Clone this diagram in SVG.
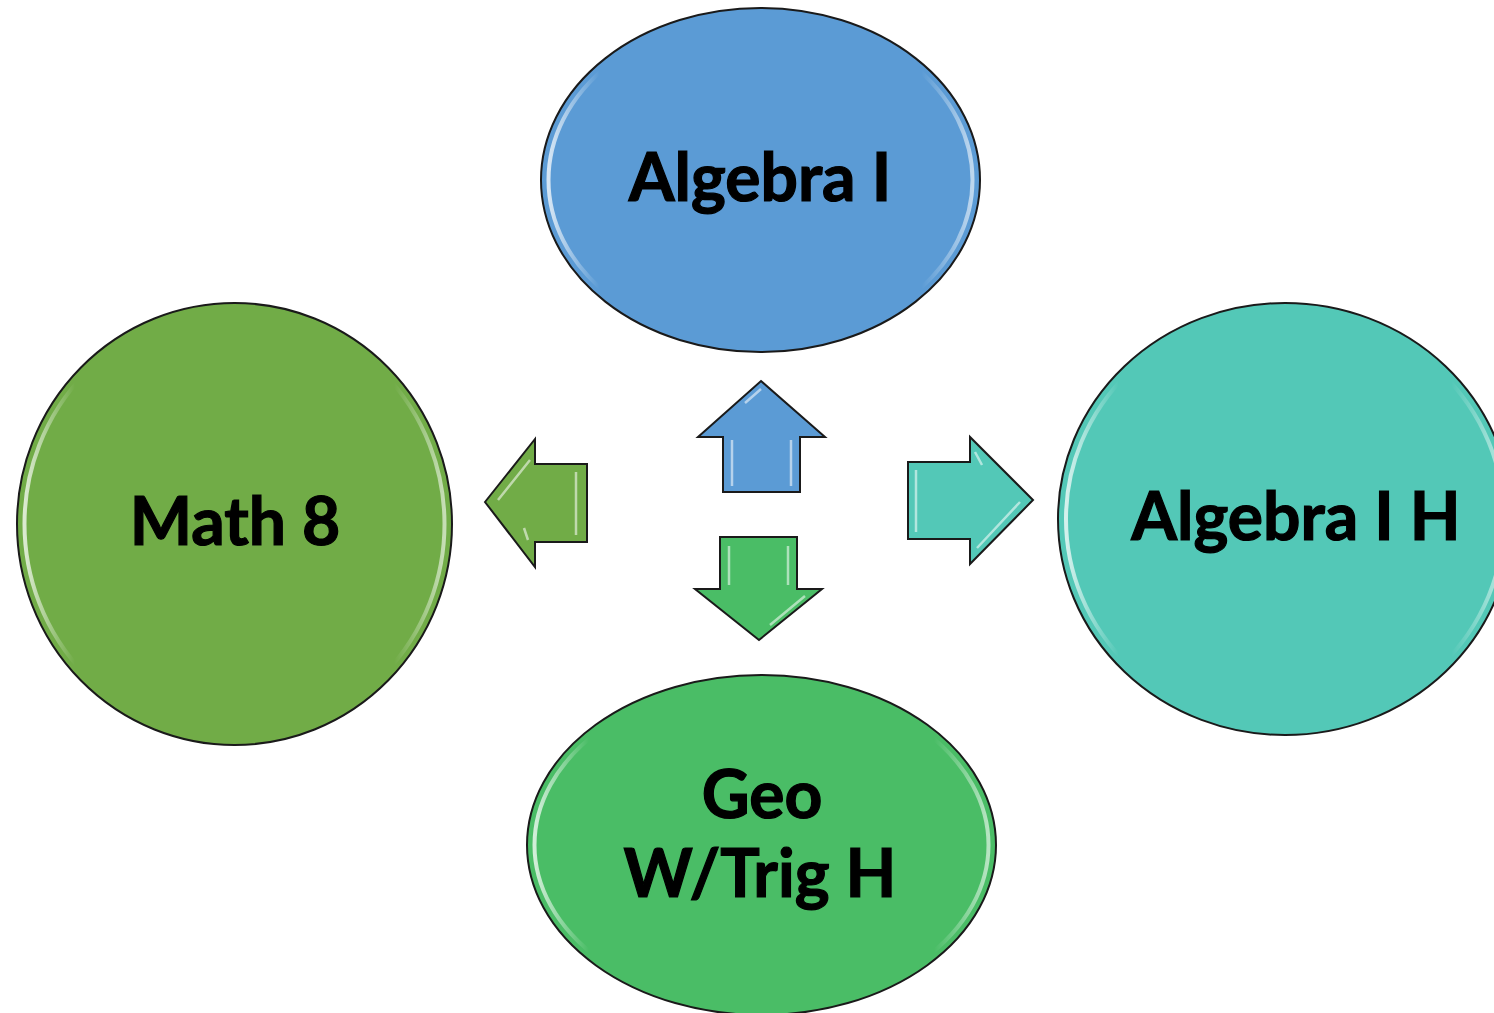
<svg xmlns="http://www.w3.org/2000/svg" width="1494" height="1013" viewBox="0 0 1494 1013">
<style>
.node{stroke:#1a1a1a;stroke-width:2}
.gloss{fill:none;stroke:url(#hl);stroke-width:4}
.lbl{font-family:Lato,"Open Sans","Liberation Sans",sans-serif;font-weight:700;font-size:66px;fill:#000;stroke:#000;stroke-width:1.2;text-anchor:middle}
.arrow{stroke:#1a1a1a;stroke-width:2;stroke-linejoin:miter}
.ahl{fill:none;stroke:#ffffff;stroke-opacity:0.55;stroke-width:2.5}
</style>
<defs>
<linearGradient id="hl" x1="0" y1="0" x2="1" y2="0">
<stop offset="0" stop-color="#fff" stop-opacity="0.75"/>
<stop offset="0.12" stop-color="#fff" stop-opacity="0"/>
<stop offset="0.88" stop-color="#fff" stop-opacity="0"/>
<stop offset="1" stop-color="#fff" stop-opacity="0.6"/>
</linearGradient>
</defs>
<rect width="1494" height="1013" fill="#fff"/>
<g id="connectors">
<g id="arrow-up">
<polygon class="arrow" fill="#5B9BD5" points="761,381 825,437 800,437 800,492 723,492 723,437 698,437"/>
<path class="ahl" d="M732,440 V486 M791,440 V486 M745,403 L761,389"/>
</g>
<g id="arrow-down">
<polygon class="arrow" fill="#4ABD66" points="720,537 797,537 797,589 822,589 759,640 695,589 720,589"/>
<path class="ahl" d="M729,546 V585 M788,546 V585 M770,625 L805,596"/>
</g>
<g id="arrow-left">
<polygon class="arrow" fill="#71AC47" points="485,502 535,439 535,464 587,464 587,542 535,542 535,567"/>
<path class="ahl" d="M498,500 L530,460 M576,472 V535 M524,528 L528,540"/>
</g>
<g id="arrow-right">
<polygon class="arrow" fill="#53C8B7" points="908,462 970,462 970,437 1033,500 970,564 970,539 908,539"/>
<path class="ahl" d="M916,470 V532 M1020,502 L977,548 M975,452 L982,465"/>
</g>
</g>
<g id="node-algebra1">
<ellipse class="node" cx="760.5" cy="180" rx="219.5" ry="172" fill="#5B9BD5"/>
<ellipse class="gloss" cx="760.5" cy="180" rx="212" ry="165"/>
<text class="lbl" x="760" y="201">Algebra I</text>
</g>
<g id="node-math8">
<ellipse class="node" cx="234.5" cy="524" rx="217.5" ry="221" fill="#71AC47"/>
<ellipse class="gloss" cx="234.5" cy="524" rx="210" ry="214"/>
<text class="lbl" x="235" y="545">Math 8</text>
</g>
<g id="node-algebra1h">
<ellipse class="node" cx="1285" cy="519" rx="227" ry="216" fill="#53C8B7"/>
<ellipse class="gloss" cx="1285" cy="519" rx="219" ry="209"/>
<text class="lbl" x="1296" y="540">Algebra I H</text>
</g>
<g id="node-geo">
<ellipse class="node" cx="761.5" cy="845" rx="234.5" ry="170" fill="#4ABD66"/>
<ellipse class="gloss" cx="761.5" cy="845" rx="227" ry="163"/>
<text class="lbl" x="762" y="818">Geo</text>
<text class="lbl" x="760" y="897">W/Trig H</text>
</g>
</svg>
